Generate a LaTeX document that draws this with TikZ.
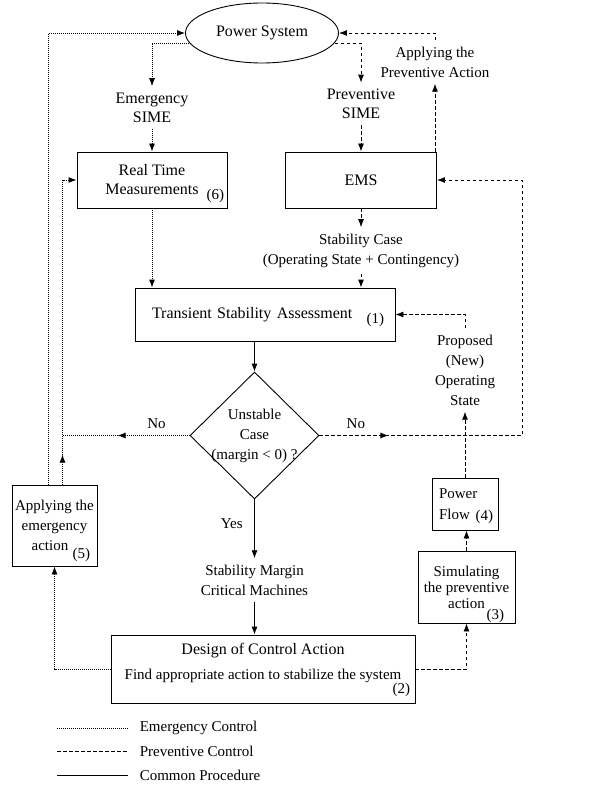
\documentclass[tikz,border=0pt]{standalone}
\usepackage{fontspec}
\setmainfont{Liberation Serif}
\usetikzlibrary{shapes.geometric, arrows.meta, decorations.markings}

\newcommand{\boxfont}{\fontsize{16}{19}\selectfont}
\newcommand{\lblfont}{\fontsize{15}{20}\selectfont}

\begin{document}
\begin{tikzpicture}[x=1pt, y=-1pt, line width=0.9pt, >={Latex[length=8pt, width=6pt]},
    box/.style={draw, rectangle, inner sep=3pt, align=center},
    lbl/.style={align=center, inner sep=6pt, font=\lblfont},
    num/.style={anchor=south east, inner sep=2pt, font=\lblfont},
    emer/.style={dash pattern=on 1pt off 1pt},
    prev/.style={dash pattern=on 3.5pt off 2.5pt},
    tipat/.style={postaction={decorate}, decoration={markings, mark=at position #1 with {\arrow{>}}}}]
    \useasboundingbox (0, 0) rectangle (615, 786);

    % define blocks
    \node[ellipse, draw, minimum width=153pt, minimum height=60pt, font=\boxfont] (ps) at (262, 33) {Power System};
    \node[box, minimum width=150pt, minimum height=56pt, font=\boxfont] (rtm) at (152, 180) {Real Time\\Measurements};
    \node[box, minimum width=151pt, minimum height=56pt, font=\boxfont] (ems) at (361, 180) {EMS};
    \node[box, minimum width=260pt, minimum height=53pt, text width=226pt, align=left, font=\boxfont] (tsa) at (265, 314.5) {Transient Stability Assessment};
    \node[diamond, draw, minimum width=129pt, minimum height=127pt, inner sep=-6pt, align=center, font=\lblfont] (dia) at (254.5, 435.5) {Unstable\\Case\\(margin < 0) ?};
    \node[box, minimum width=304pt, minimum height=68pt, text depth=15pt, font=\lblfont] (dca) at (263, 669) {{\boxfont Design of Control Action}\\[5pt]Find appropriate action to stabilize the system};
    \node[box, minimum width=85pt, minimum height=81pt, font=\lblfont] (b5) at (54.5, 525.5) {Applying the\\emergency\\action\hspace*{9pt}};
    \node[box, minimum width=97pt, minimum height=72pt, font=\fontsize{15}{16}\selectfont] (b3) at (466.5, 587) {Simulating\\the preventive\\action};
    \node[box, minimum width=66pt, minimum height=52pt, text width=52pt, align=left, font=\fontsize{15}{21}\selectfont] (b4) at (465, 504) {Power\\Flow};

    % block numbers
    \node[num] (n1) at ([xshift=-9pt, yshift=12.5pt]tsa.south east) {(1)};
    \node[num] (n2) at ([xshift=-3pt, yshift=4.5pt]dca.south east) {(2)};
    \node[num] (n3) at ([xshift=-9pt, yshift=-2pt]b3.south east) {(3)};
    \node[num] (n4) at ([xshift=-3pt, yshift=4pt]b4.south east) {(4)};
    \node[num] (n5) at ([xshift=-5pt, yshift=2.5pt]b5.south east) {(5)};
    \node[num] (n6) at ([xshift=-1pt, yshift=3pt]rtm.south east) {(6)};

    % labels on the flow
    \node[lbl, font=\boxfont] (esime) at (152, 107.5) {Emergency\\SIME};
    \node[lbl, font=\boxfont] (psime) at (361, 104) {Preventive\\SIME};
    \node[lbl] (apa) at (435, 62) {Applying the\\Preventive Action};
    \node[lbl] (sc) at (361, 250.5) {Stability Case\\(Operating State + Contingency)};
    \node[lbl] (smcm) at (254.5, 580) {Stability Margin\\Critical Machines};
    \node[lbl] (pnos) at (465, 370) {Proposed\\(New)\\Operating\\State};

    % junctions
    \coordinate (b5l) at ([xshift=-6pt]b5.north);
    \coordinate (b5r) at ([xshift=8pt]b5.north);
    \coordinate (jl) at (b5r |- dia.west);
    \coordinate (jr) at (522, 435.5);

    % emergency control
    \draw[emer, ->] (ps.188) -| (esime.north);
    \draw[emer, ->] (esime.south) -- (rtm.north);
    \draw[emer, ->] (rtm.south) -- (rtm.south |- tsa.north);
    \draw[emer, ->] (b5l) |- (ps.west);
    \draw[emer, ->, tipat=30pt] (b5r) |- (rtm.west);
    \draw[emer, tipat=72pt] (dia.west) -- node[above=3pt, pos=0.26, font=\lblfont] (nol) {No} (jl);
    \draw[emer, ->] (dca.west) -| (b5.south);

    % preventive control
    \draw[prev, ->] (ps.352) -| (psime.north);
    \draw[prev, ->] (psime.south) -- (psime.south |- ems.north);
    \draw[prev, ->] (apa.south |- ems.north) -- (apa.south);
    \draw[prev, ->] (apa.north) |- (ps.east);
    \draw[prev, ->] (ems.south) -- (sc.north);
    \draw[prev, ->] (sc.south) -- (sc.south |- tsa.north);
    \draw[prev, ->, tipat=69pt] (dia.east) -- node[above=3pt, pos=0.18, font=\lblfont] (nor) {No} (jr) |- (ems.east);
    \draw[prev, ->] (dca.east) -| (b3.south);
    \draw[prev, ->] (b3.north) -- (b3.north |- b4.south);
    \draw[prev, ->] (b4.north) -- (b4.north |- pnos.south);
    \draw[prev, ->] (pnos.north) |- (tsa.east);

    % common procedure
    \draw[->] (dia.north |- tsa.south) -- (dia.north);
    \draw[->] (dia.south) -- node[left=8pt, pos=0.42, font=\lblfont] (yes) {Yes} (smcm.north);
    \draw[->] (smcm.south) -- (smcm.south |- dca.north);

    % legend
    \foreach \y/\s/\t [count=\i] in {728/emer/Emergency Control, 751/prev/Preventive Control, 775/solid/Common Procedure}
    {
        \coordinate (la\i) at (57, \y);
        \coordinate (lb\i) at (128, \y);
        \draw[\s] (la\i) -- (lb\i);
        \node[anchor=west, font=\lblfont] (lt\i) at (136, \y) {\t};
    }
\end{tikzpicture}
\end{document}
